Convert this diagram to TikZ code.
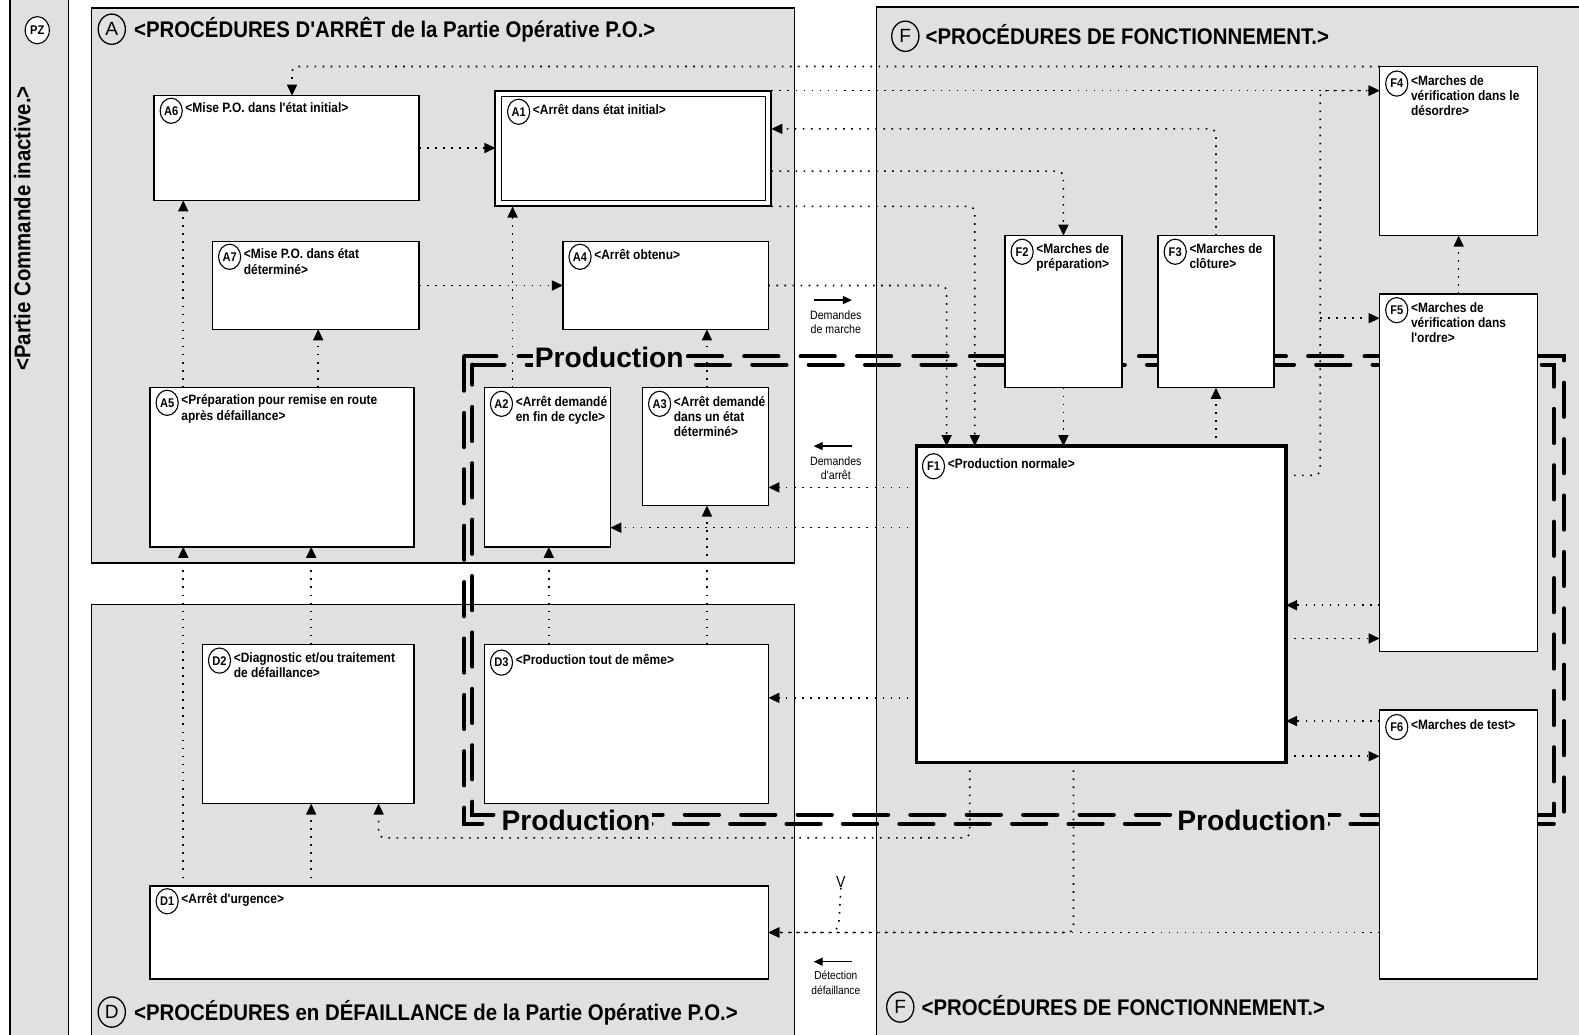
\documentclass[tikz,border=0pt]{standalone}
\usepackage{fontspec}
\setmainfont{Liberation Sans}
\newfontfamily\nar{Liberation Sans}[FakeStretch=0.88]
\newfontfamily\ttl{Liberation Sans}[FakeStretch=0.9]
\usetikzlibrary{arrows.meta,calc,shapes.geometric}
\definecolor{panel}{RGB}{224,224,224}

\tikzset{
  panelbox/.style={draw=black, line width=1.2pt, fill=panel},
  box/.style={draw=black, line width=1.5pt, fill=white, inner sep=0pt, outer sep=0pt},
  tag/.style={ellipse, draw=black, line width=1.1pt, fill=white, minimum width=22pt, minimum height=25pt, inner sep=0pt,
    font=\nar\bfseries\fontsize{12.5}{12.5}\selectfont},
  lbl/.style={anchor=north west, inner sep=0pt, align=left, font=\nar\bfseries\fontsize{13.5}{15}\selectfont},
  ptag/.style={ellipse, draw=black, line width=1.3pt, minimum width=27pt, minimum height=30pt, inner sep=0pt,
    font=\fontsize{19}{19}\selectfont},
  ptitle/.style={anchor=base west, inner sep=0pt, font=\ttl\bfseries\fontsize{22.5}{24}\selectfont},
  flow/.style={line width=1.6pt, dash pattern=on 1.6pt off 6.4pt, rounded corners=6pt,
    -{Triangle[length=11pt,width=10pt]}},
  dots/.style={line width=1.6pt, dash pattern=on 1.6pt off 6.4pt, rounded corners=6pt},
  prodline/.style={line width=4pt, dash pattern=on 34pt off 22pt, line cap=round},
  prodtext/.style={fill=panel, inner sep=2pt, font=\bfseries\fontsize{28}{28}\selectfont},
  note/.style={align=center, inner sep=0pt, font=\nar\fontsize{12}{14}\selectfont},
  hint/.style={line width=1.3pt, -{Triangle[length=9pt,width=8pt]}},
}

% state box: [style] name, x1, y1, x2, y2, tag, label, [extra drop of tag and label]
\NewDocumentCommand\gbox{O{} m m m m m m m O{0}}{%
  \node[box,#1,minimum width={(#5-#3)*1pt},minimum height={(#6-#4)*1pt},anchor=north west] (#2) at (#3,#4) {};
  \node[tag] (#2t) at ($(#2.north west)+(17,{15+#9})$) {#7};
  \node[lbl] (#2l) at ($(#2.north west)+(31,{7+#9})$) {#8};}

\begin{document}
\begin{tikzpicture}[x=1pt,y=-1pt]
\useasboundingbox (0,0) rectangle (1568,1027);
\clip (0,0) rectangle (1568,1027);
\fill[white] (0,0) rectangle (1568,1027);

% panels
\path[panelbox] (10,-10) rectangle (68,1040);
\path[panelbox] (91,8) rectangle (789,559);
\path[panelbox] (91,600) rectangle (789,1040);
\path[panelbox] (870,7) rectangle (1580,1040);

% panel titles
\node[tag, minimum width=24pt, minimum height=27pt] (PZt) at (37,30) {PZ};
\node[font=\ttl\bfseries\fontsize{22.5}{24}\selectfont, rotate=90, inner sep=0pt] (PZl) at (22,227) {<Partie Commande inactive.>};
\node[ptag] (At) at (111,29) {A};
\node[ptitle] (Al) at (133,37) {<PROCÉDURES D'ARRÊT de la Partie Opérative P.O.>};
\node[ptag] (Ft) at (899,36) {F};
\node[ptitle] (Fl) at (919,44) {<PROCÉDURES DE FONCTIONNEMENT.>};
\node[ptag] (Dt) at (111,1005) {D};
\node[ptitle] (Dl) at (133,1013) {<PROCÉDURES en DÉFAILLANCE de la Partie Opérative P.O.>};
\node[ptag] (Fbt) at (894,1000) {F};
\node[ptitle] (Fbl) at (915,1008) {<PROCÉDURES DE FONCTIONNEMENT.>};

% production zone boundary (double dashed)
\draw[prodline] (461,354) rectangle (1553,818);
\draw[prodline, dash phase=14pt] (469,362) rectangle (1543,809);
\node[prodtext] (P1) at (605,355) {Production};
\node[prodtext] (P2) at (572,815) {Production};
\node[prodtext] (P3) at (1243,815) {Production};

% states
\gbox{A6}{153}{95}{416}{199}{A6}{<Mise P.O. dans l'état initial>}
\node[box, line width=2pt, minimum width=274pt, minimum height=115pt, anchor=north west] (A1) at (492,90) {};
\gbox{A1in}{498}{96}{760}{199}{A1}{<Arrêt dans état initial>}
\gbox{A7}{211}{240}{416}{327}{A7}{<Mise P.O. dans état\\déterminé>}
\gbox{A4}{559}{240}{763}{327}{A4}{<Arrêt obtenu>}
\gbox{A5}{149}{385}{411}{543}{A5}{<Préparation pour remise en route\\après défaillance>}
\gbox{A2}{481}{385}{606}{543}{A2}{<Arrêt demandé\\en fin de cycle>}[1]
\gbox{A3}{638}{385}{763}{502}{A3}{<Arrêt demandé\\dans un état\\déterminé>}[1]
\gbox{D2}{201}{640}{411}{798}{D2}{<Diagnostic et/ou traitement\\de défaillance>}[1]
\gbox{D3}{481}{640}{763}{798}{D3}{<Production tout de même>}[3]
\gbox{D1}{149}{880}{763}{972}{D1}{<Arrêt d'urgence>}
\gbox{F2}{998}{234}{1114}{385}{F2}{<Marches de\\préparation>}[1]
\gbox{F3}{1150}{234}{1265}{385}{F3}{<Marches de\\clôture>}[1]
\gbox{F4}{1370}{66}{1527}{234}{F4}{<Marches de\\vérification dans le\\désordre>}[2]
\gbox{F5}{1370}{292}{1527}{647}{F5}{<Marches de\\vérification dans\\l'ordre>}[1]
\gbox{F6}{1370}{705}{1527}{972}{F6}{<Marches de test>}[2]
\gbox[line width=3.5pt]{F1}{910}{443}{1277}{757}{F1}{<Production normale>}[5]

% notes in the gap
\node[note] (dm) at (830,308) [anchor=north] {Demandes\\de marche};
\draw[hint] ([xshift=-22pt,yshift=10pt]dm.north) -- ([xshift=16pt,yshift=10pt]dm.north);
\node[note] (da) at (830,453) [anchor=north] {Demandes\\d'arrêt};
\draw[hint] ([xshift=16pt,yshift=10pt]da.north) -- ([xshift=-22pt,yshift=10pt]da.north);
\node[note, font=\nar\fontsize{11.5}{14.5}\selectfont] (dd) at (830,964) [anchor=north] {Détection\\défaillance};
\draw[hint] ([xshift=16pt,yshift=9pt]dd.north) -- ([xshift=-22pt,yshift=9pt]dd.north);
\node[note, font=\nar\fontsize{16}{16}\selectfont] (V) at (835,876) {V};
\coordinate (vj) at (829,926);
\coordinate (f5j) at (1311,316);

% transitions
\draw[flow] (F4.north west) -- (290,66) -- (A6.north -| 290,0);
\draw[flow] (A1.north east) -- (A1.north east -| F4.west);
\draw[flow] (F1.east |- 0,472) -- (1311,472) -- (1311,90) -- (F4.west |- 0,90);
\draw[flow] (f5j) -- (F5.west |- f5j);
\draw[flow] (F3.north) -- (F3.north |- 0,128) -- (A1.east |- 0,128);
\draw[flow] (A1.east |- 0,170) -- (F2.north |- 0,170) -- (F2.north);
\draw[flow] (A1.south east) -- (968,205) -- (F1.north -| 968,0);
\draw[flow] (A4.east) -- (A4.east -| 940,0) -- (F1.north -| 940,0);
\draw[flow] (A7.east) -- (A4.west);
\draw[flow] (A6.east) -- (A6.east -| A1.west);
\draw[flow] (F2.south) -- (F2.south |- F1.north);
\draw[flow] (F3.south |- F1.north) -- (F3.south);
\draw[flow] (F5.north) -- (F4.south);
\draw[flow] (A5.north -| 182,0) -- (A6.south -| 182,0);
\draw[flow] (A5.north -| 316,0) -- (A7.south -| 316,0);
\draw[flow] (A2.north -| 509,0) -- (A1.south -| 509,0);
\draw[flow] (A3.north -| 702,0) -- (A4.south -| 702,0);
\draw[flow] (F1.west |- 0,484) -- (A3.east |- 0,484);
\draw[flow] (F1.west |- 0,524) -- (A2.east |- 0,524);
\draw[flow] (D1.north -| 182,0) -- (A5.south -| 182,0);
\draw[flow] (D2.north -| 309,0) -- (A5.south -| 309,0);
\draw[flow] (D1.north -| 309,0) -- (D2.south -| 309,0);
\draw[flow] (D3.north -| 545,0) -- (A2.south -| 545,0);
\draw[flow] (D3.north -| 702,0) -- (A3.south -| 702,0);
\draw[flow] (F1.west |- 0,693) -- (D3.east |- 0,693);
\draw[flow] (F5.west |- 0,601) -- (F1.east |- 0,601);
\draw[flow, shorten <=8pt] (F1.east |- 0,634) -- (F5.west |- 0,634);
\draw[flow] (F6.west |- 0,716) -- (F1.east |- 0,716);
\draw[flow, shorten <=8pt] (F1.east |- 0,751) -- (F6.west |- 0,751);
\draw[flow] (F1.south -| 963,0) -- (963,832) -- (376,832) -- (D2.south -| 376,0);
\draw[flow] (F1.south -| 1066,0) -- (1066,926) -- (D1.east |- vj);
\draw[flow] (F6.west |- vj) -- (D1.east |- vj);
\draw[dots] (V.south) -- (833,918) -- (vj);
\end{tikzpicture}
\end{document}
